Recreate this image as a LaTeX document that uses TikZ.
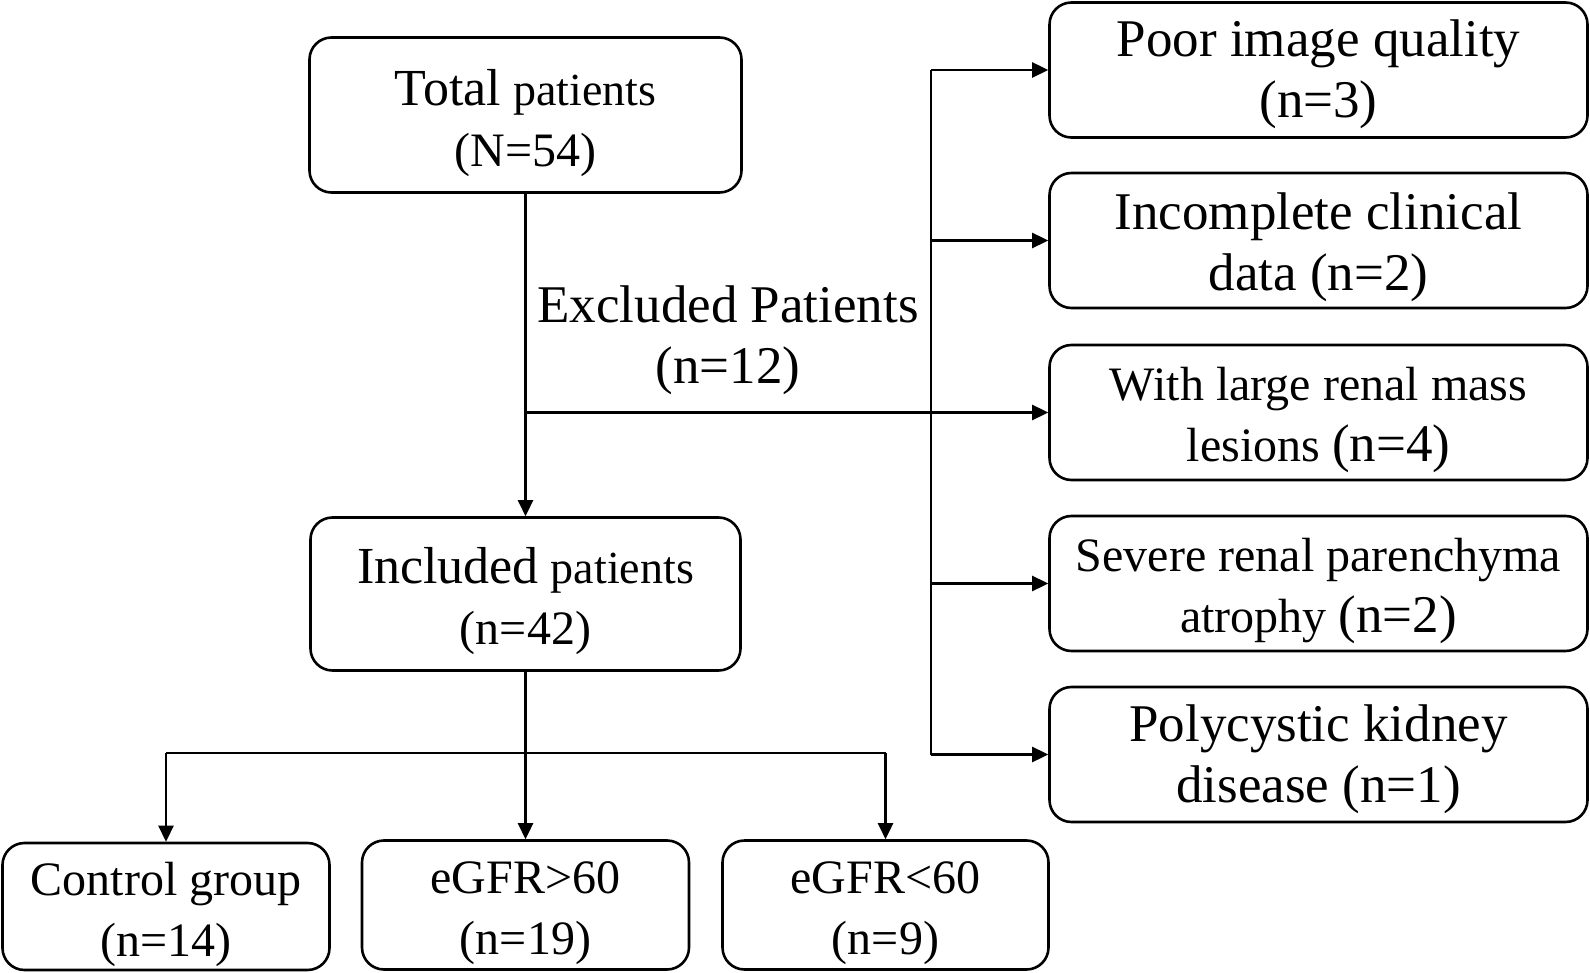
\documentclass[tikz,border=0pt]{standalone}
\usepackage{fontspec}
\setmainfont{Liberation Serif}
\usetikzlibrary{arrows.meta}
\newcommand\szBig{\fontsize{53}{61}\selectfont}
\newcommand\szMid{\fontsize{48}{61}\selectfont}
\newcommand\szSm{\fontsize{46}{61}\selectfont}
\begin{document}
\begin{tikzpicture}[x=1pt,y=-1pt,
  box/.style={draw, rounded corners=22pt, inner sep=0pt, line width=2.6pt},
  txt/.style={align=center, inner sep=0pt, yshift=-7pt},
  conn/.style={line width=2.6pt},
  arr/.style={conn, -{Triangle[length=16pt,width=15pt]}}]
\useasboundingbox (0,0) rectangle (1590,973);
% left column
\node[box, minimum width=432pt, minimum height=155pt,
  label={[txt, font=\szMid, yshift=-1pt]center:{\fontsize{52}{61}\selectfont Total} {\szSm patients}\\(N=54)}] (total) at (525.5,115) {};
\node[box, minimum width=430pt, minimum height=153pt,
  label={[txt, font=\szMid]center:{\fontsize{52}{61}\selectfont Included} {\szSm patients}\\(n=42)}] (incl) at (525.5,594) {};
% excluded label
\node[font=\szBig, align=center, inner sep=0pt] (exlab) at (728,340) {Excluded Patients\\(n=12)};
% right column
\node[box, minimum width=538pt, minimum height=135pt,
  label={[txt, font=\szBig, yshift=3pt]center:Poor image quality\\(n=3)}] (r1) at (1318.5,70) {};
\node[box, minimum width=538pt, minimum height=135pt,
  label={[txt, font=\szBig]center:Incomplete clinical\\data (n=2)}] (r2) at (1318.5,240.5) {};
\node[box, minimum width=538pt, minimum height=135pt,
  label={[txt, font=\szMid]center:With large renal mass\\lesions {\szBig (n=4)}}] (r3) at (1318.5,412.5) {};
\node[box, minimum width=538pt, minimum height=135pt,
  label={[txt, font=\szMid]center:Severe renal parenchyma\\atrophy {\szBig (n=2)}}] (r4) at (1318.5,583.5) {};
\node[box, minimum width=538pt, minimum height=135pt,
  label={[txt, font=\szBig, yshift=2pt]center:Polycystic kidney\\disease (n=1)}] (r5) at (1318.5,754.5) {};
% bottom row
\node[box, minimum width=327pt, minimum height=127pt,
  label={[txt, font=\szMid, yshift=-1pt]center:Control group\\(n=14)}] (ctrl) at (166,906.5) {};
\node[box, minimum width=327pt, minimum height=129pt,
  label={[txt, font=\szMid, yshift=-1pt]center:eGFR>60\\(n=19)}] (g60) at (525.5,905) {};
\node[box, minimum width=326pt, minimum height=129pt,
  label={[txt, font=\szMid, yshift=-1pt]center:eGFR<60\\(n=9)}] (l60) at (885.5,905) {};
% connectors
\draw[arr] (total.south) -- (incl.north);
\coordinate (jx) at (total.south |- r3.west);
\draw[arr] (jx) -- (r3.west);
\coordinate (bx) at (931,0);
\draw[conn] (bx |- r1.west) -- (bx |- r5.west);
\draw[arr] (bx |- r1.west) -- (r1.west);
\draw[arr] (bx |- r2.west) -- (r2.west);
\draw[arr] (bx |- r4.west) -- (r4.west);
\draw[arr] (bx |- r5.west) -- (r5.west);
\coordinate (by) at (0,753);
\draw[arr] (incl.south) -- (g60.north);
\draw[conn] (ctrl.north |- by) -- (l60.north |- by);
\draw[arr] (ctrl.north |- by) -- (ctrl.north);
\draw[arr] (l60.north |- by) -- (l60.north);
\end{tikzpicture}
\end{document}
